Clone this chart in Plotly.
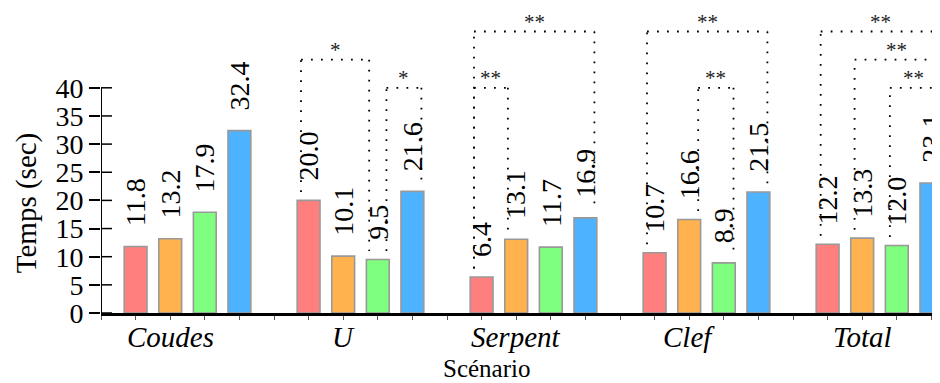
import plotly.graph_objects as go

# ---- data ----
scenarios = ["Coudes", "U", "Serpent", "Clef", "Total"]
series_names = ["Condition A", "Condition B", "Condition C", "Condition D"]
vals_red = [11.8, 20.0, 6.4, 10.7, 12.2]
vals_orange = [13.2, 10.1, 13.1, 16.6, 13.3]
vals_green = [17.9, 9.5, 11.7, 8.9, 12.0]
vals_blue = [32.4, 21.6, 16.9, 21.5, 23.1]
y_ticks = [0, 5, 10, 15, 20, 25, 30, 35, 40]
# significance brackets: (scenario index, bar a, bar b, label)
brackets = [
    (1, 0, 2, "*"), (1, 2, 3, "*"),
    (2, 0, 3, "**"), (2, 0, 1, "**"),
    (3, 0, 3, "**"), (3, 1, 2, "**"),
    (4, 0, 3, "**"), (4, 1, 3, "**"), (4, 2, 3, "**"),
]

# ---- style ----
colors = ["#FF7F7F", "#FFB24D", "#7FFF7F", "#4DB2FF"]
FONT = "Liberation Serif"
# bracket drawing style: (level, offset a, offset b)
bracket_style = [
    (45, -0.22, -0.25), (40, 0.25, 0.26),
    (50, -0.22, 0.26), (40, -0.22, -0.24),
    (50, -0.22, 0.26), (40, 0.26, 0.28),
    (50, -0.2, 0.26), (45, -0.22, 0.22), (40, -0.2, 0.18),
]

all_vals = [vals_red, vals_orange, vals_green, vals_blue]
GROUP = 5
ML, MB, H, W = 93, 78, 383, 940
PX_PER_UNIT_Y = 5.63
PX_PER_UNIT_X = 34.6

def pos(g, s):
    return g * GROUP + s + 1

fig = go.Figure()
annotations = []
for s, vals in enumerate(all_vals):
    xs = [pos(g, s) for g in range(len(scenarios))]
    fig.add_trace(go.Bar(
        x=xs, y=vals, name=series_names[s], width=0.66,
        marker=dict(color=colors[s], line=dict(color="#999999", width=1.6)),
        showlegend=False,
    ))
    for x, v in zip(xs, vals):
        annotations.append(dict(
            x=x, y=v, xref="x", yref="y", text=f"{v:.1f}", textangle=-90,
            showarrow=False, yanchor="bottom", xanchor="center", yshift=18,
            font=dict(family=FONT, size=28, color="black"),
        ))

shapes = []
dot = dict(color="black", width=1.8, dash="1.8px,8.2px")
for (g, a, b, lab), (lvl, oa, ob) in zip(brackets, bracket_style):
    xa = pos(g, a) + oa
    xb = pos(g, b) + ob
    ya = all_vals[a][g] + 1.5
    yb = all_vals[b][g] + 1.5
    shapes.append(dict(type="line", xref="x", yref="y", x0=xa, x1=xa, y0=ya, y1=lvl, line=dot))
    shapes.append(dict(type="line", xref="x", yref="y", x0=xa, x1=xb, y0=lvl, y1=lvl, line=dot))
    shapes.append(dict(type="line", xref="x", yref="y", x0=xb, x1=xb, y0=lvl, y1=yb, line=dot))
    annotations.append(dict(
        x=(xa + xb) / 2, y=lvl, xref="x", yref="y", text=lab, showarrow=False,
        yanchor="bottom", xanchor="center", yshift=-4,
        font=dict(family=FONT, size=21, color="#222"),
    ))

# y axis line (0..40) and inner tick halves
shapes.append(dict(type="line", xref="x", yref="y", x0=0, x1=0, y0=0, y1=y_ticks[-1],
                   line=dict(color="black", width=2)))
for t in y_ticks:
    shapes.append(dict(type="line", xref="x", yref="y", xsizemode="pixel", xanchor=0,
                       x0=0, x1=11, y0=t, y1=t, line=dict(color="black", width=1.5)))

# axis titles
annotations.append(dict(
    x=0, y=19.5, xref="paper", yref="y", xshift=-75, text="Temps (sec)", textangle=-90,
    showarrow=False, xanchor="center", yanchor="middle",
    font=dict(family=FONT, size=29, color="black"),
))
annotations.append(dict(
    x=0.455, y=0, xref="paper", yref="paper", yshift=-55, text="Scénario",
    showarrow=False, xanchor="center", yanchor="middle",
    font=dict(family=FONT, size=25, color="black"),
))
# category labels
for g, name in enumerate(scenarios):
    annotations.append(dict(
        x=pos(g, 1), y=0, xref="x", yref="paper", yshift=-24, text=f"<i>{name}</i>",
        showarrow=False, xanchor="center", yanchor="middle",
        font=dict(family=FONT, size=29, color="black"),
    ))

n_pos = GROUP * len(scenarios)
plot_h = H - MB
plot_w = W - ML

fig.update_layout(
    width=W, height=H,
    margin=dict(l=ML, r=0, t=0, b=MB),
    plot_bgcolor="white", paper_bgcolor="white",
    barmode="overlay",
    font=dict(family=FONT, size=28, color="black"),
    xaxis=dict(
        range=[0, plot_w / PX_PER_UNIT_X], tickvals=list(range(n_pos)),
        ticktext=[""] * n_pos,
        ticks="outside", ticklen=4, tickwidth=1, tickcolor="#555",
        showline=True, linewidth=2.5, linecolor="black",
        showgrid=False, zeroline=False,
    ),
    yaxis=dict(
        range=[0, plot_h / PX_PER_UNIT_Y], tickvals=y_ticks,
        ticks="outside", ticklen=11, tickwidth=1.5, tickcolor="black",
        showline=False, showgrid=False, zeroline=False,
        tickfont=dict(family=FONT, size=28, color="black"),
    ),
    shapes=shapes,
    annotations=annotations,
)

fig.write_html("out.html")
